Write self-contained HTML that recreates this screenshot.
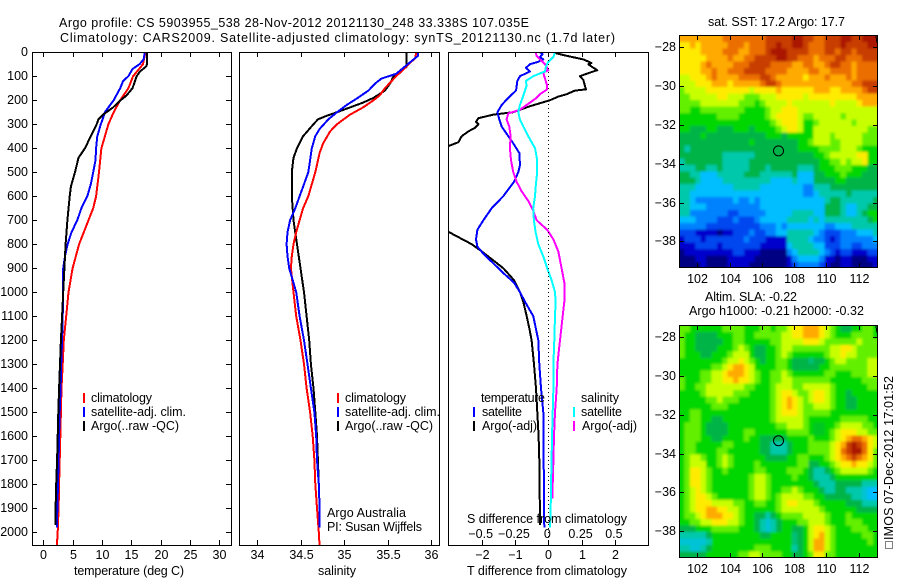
<!DOCTYPE html>
<html lang="en">
<head>
<meta charset="utf-8">
<title>Argo profile</title>
<style>
html,body{margin:0;padding:0;background:#fff;}
svg{display:block;}
text{font-family:"Liberation Sans",sans-serif;font-size:12.5px;fill:#000;}
</style>
</head>
<body>
<svg id="fig" xmlns="http://www.w3.org/2000/svg" width="900" height="580" viewBox="0 0 900 580">
<defs>
<clipPath id="clip-t"><rect x="33" y="52" width="198" height="494"/></clipPath>
<clipPath id="clip-s"><rect x="240" y="52" width="199" height="494"/></clipPath>
<clipPath id="clip-d"><rect x="449" y="52" width="199" height="494"/></clipPath>
<clipPath id="clip-sst"><rect x="680" y="35" width="198" height="233"/></clipPath>
<clipPath id="clip-sla"><rect x="680" y="325" width="198" height="233"/></clipPath>
<filter id="soften" filterUnits="userSpaceOnUse" x="660" y="15" width="240" height="565"><feGaussianBlur stdDeviation="1.3"/></filter>
</defs>
<g id="layer-maps"></g>
<g id="layer-lines"></g>
<g id="layer-axes"></g>

<text x="59" y="27" textLength="470" lengthAdjust="spacing">Argo profile: CS 5903955_538 28-Nov-2012 20121130_248 33.338S 107.035E</text>
<text x="60" y="42" textLength="555" lengthAdjust="spacing">Climatology: CARS2009. Satellite-adjusted climatology: synTS_20121130.nc (1.7d later)</text>

<text x="74" y="575" textLength="110" lengthAdjust="spacing">temperature (deg C)</text>
<text x="318" y="575" textLength="38" lengthAdjust="spacing">salinity</text>
<text x="467" y="575" textLength="160" lengthAdjust="spacing">T difference from climatology</text>
<text x="467" y="523" textLength="160" lengthAdjust="spacing">S difference from climatology</text>

<g>
<rect x="83" y="393" width="2" height="10" fill="#ff0000"/>
<rect x="83" y="407" width="2" height="10" fill="#0000ff"/>
<rect x="83" y="421" width="2" height="10" fill="#000"/>
<text x="91" y="402" textLength="61" lengthAdjust="spacing">climatology</text>
<text x="91" y="416" textLength="95" lengthAdjust="spacing">satellite-adj. clim.</text>
<text x="91" y="430" textLength="88" lengthAdjust="spacing">Argo(..raw -QC)</text>
</g>
<g>
<rect x="337" y="393" width="2" height="10" fill="#ff0000"/>
<rect x="337" y="407" width="2" height="10" fill="#0000ff"/>
<rect x="337" y="421" width="2" height="10" fill="#000"/>
<text x="345" y="402" textLength="61" lengthAdjust="spacing">climatology</text>
<text x="345" y="416" textLength="95" lengthAdjust="spacing">satellite-adj. clim.</text>
<text x="345" y="430" textLength="88" lengthAdjust="spacing">Argo(..raw -QC)</text>
</g>
<text x="327" y="517" textLength="79" lengthAdjust="spacing">Argo Australia</text>
<text x="327" y="531" textLength="95" lengthAdjust="spacing">PI: Susan Wijffels</text>

<g>
<text x="481" y="402" textLength="64" lengthAdjust="spacing">temperature</text>
<text x="581" y="402" textLength="38" lengthAdjust="spacing">salinity</text>
<rect x="473" y="407" width="2" height="10" fill="#0000ff"/>
<rect x="473" y="421" width="2" height="10" fill="#000"/>
<rect x="573" y="407" width="2" height="10" fill="#00ffff"/>
<rect x="573" y="421" width="2" height="10" fill="#ff00ff"/>
<text x="482" y="416" textLength="40" lengthAdjust="spacing">satellite</text>
<text x="482" y="430" textLength="55" lengthAdjust="spacing">Argo(-adj)</text>
<text x="581" y="416" textLength="41" lengthAdjust="spacing">satellite</text>
<text x="582" y="430" textLength="55" lengthAdjust="spacing">Argo(-adj)</text>
</g>

<text x="708" y="26" textLength="137" lengthAdjust="spacing">sat. SST: 17.2 Argo: 17.7</text>
<text x="705" y="301" textLength="92" lengthAdjust="spacing">Altim. SLA: -0.22</text>
<text x="689" y="315" textLength="175" lengthAdjust="spacing">Argo h1000: -0.21 h2000: -0.32</text>
<rect x="885.5" y="541.5" width="7" height="7" fill="none" stroke="#000" stroke-width="1" stroke-dasharray="1 1" shape-rendering="crispEdges"/>
<text transform="translate(893 540) rotate(-90)" x="0" y="0" textLength="164" lengthAdjust="spacing">IMOS 07-Dec-2012 17:01:52</text>
</svg>

<script>
// ---------- profile data (depth in m, temperature in deg C, salinity in psu) ----------
const tClimDepth = [0,50,100,150,200,250,300,350,400,500,600,650,700,800,900,1000,1100,1200,1300,1400,1500,1600,1700,1800,1900,2000,2060];
const tClimValue = [17.4,17.0,15.3,14.5,13.1,12.0,11.1,10.5,9.9,9.5,9.0,8.5,7.7,6.1,5.0,4.3,3.9,3.5,3.3,3.1,3.0,2.9,2.8,2.7,2.6,2.45,2.3];
const tSatDepth = [0,30,50,70,100,120,150,200,250,280,300,350,400,450,500,550,600,650,700,750,800,850,900,1000,1100,1200,1300,1400,1500,1600,1700,1800,1900,1980];
const tSatValue = [17.3,17.1,16.4,15.2,14.5,13.6,13.1,12.0,10.5,10.1,9.8,9.2,9.0,8.9,8.5,8.1,7.5,6.5,5.8,4.8,4.15,3.7,3.4,3.4,3.3,3.2,3.05,2.95,2.8,2.7,2.6,2.5,2.4,2.3];
const tArgoDepth = [0,50,60,80,100,130,150,180,200,230,260,280,300,350,400,440,500,560,600,700,800,900,1000,1100,1200,1300,1400,1500,1600,1700,1800,1900,1970];
const tArgoValue = [17.7,17.7,17.5,16.5,15.9,15.5,15.2,14.2,13.2,11.9,10.2,9.4,9.1,8.1,7.1,6.0,5.4,4.7,4.5,4.1,3.8,3.6,3.4,3.2,3.0,2.85,2.7,2.55,2.45,2.35,2.2,2.1,2.05];

const sClimDepth = [0,25,50,80,100,150,180,200,230,260,300,330,380,420,500,550,600,650,700,750,800,850,900,1000,1100,1200,1300,1400,1500,1600,1700,1800,1900,2000,2060];
const sClimValue = [35.83,35.82,35.74,35.66,35.6,35.47,35.41,35.34,35.22,35.07,34.92,34.84,34.76,34.72,34.67,34.63,34.59,34.53,34.49,34.45,34.42,34.40,34.39,34.42,34.45,34.5,34.54,34.57,34.61,34.64,34.66,34.67,34.69,34.71,34.72];
const sSatDepth = [0,15,30,60,90,110,130,160,190,220,250,280,320,350,400,450,500,550,600,650,700,750,800,850,900,950,1000,1100,1200,1300,1400,1500,1600,1700,1800,1900,1980];
const sSatValue = [35.85,35.85,35.8,35.7,35.6,35.43,35.36,35.28,35.16,35.03,34.92,34.82,34.72,34.67,34.63,34.61,34.59,34.54,34.49,34.44,34.38,34.35,34.34,34.35,34.37,34.41,34.45,34.49,34.54,34.58,34.62,34.66,34.68,34.69,34.71,34.72,34.72];
const sArgoDepth = [0,60,80,100,130,160,190,210,230,250,265,280,300,350,400,440,500,600,700,800,900,1000,1100,1200,1300,1400,1500,1600,1700,1800,1900,1970];
const sArgoValue = [35.72,35.72,35.66,35.57,35.53,35.47,35.34,35.22,35.07,34.92,34.8,34.7,34.65,34.53,34.46,34.42,34.4,34.4,34.42,34.46,34.5,34.54,34.57,34.6,34.62,34.65,34.67,34.69,34.7,34.71,34.72,34.72];

// ---------- difference panel data ----------
const dtArgoDepth = [0,5,15,30,45,50,60,75,85,100,115,140,155,160,175,185,200,225,250,260,265,275,290,300,315,330,350,375,390,450,500,600,700,750,800,830,900,950,1000,1040,1100,1150,1200,1300,1400,1500,1600,1700,1800,1900,1970];
const dtArgoValue = [0.2,0.25,0.55,1.05,1.3,1.2,1.3,1.47,1.25,0.95,1.05,1.1,1.13,0.8,0.55,0.3,0.05,-0.55,-1.05,-1.65,-1.8,-2.1,-2.17,-2.1,-2.2,-2.4,-2.6,-2.7,-2.98,-3.9,-4.1,-4.5,-3.6,-2.98,-2.3,-2.0,-1.35,-1.03,-0.85,-0.75,-0.65,-0.57,-0.5,-0.43,-0.37,-0.33,-0.29,-0.27,-0.27,-0.25,-0.25];
const dtSatDepth = [0,8,20,30,40,50,65,80,100,120,140,160,190,220,250,280,310,350,380,420,470,500,540,600,650,700,740,780,810,840,880,920,960,1000,1040,1100,1200,1300,1400,1500,1600,1700,1800,1900,1980];
const dtSatValue = [-0.25,-0.17,-0.25,-0.15,-0.3,-0.55,-0.67,-0.55,-0.85,-0.93,-0.95,-0.97,-1.2,-1.4,-1.53,-1.47,-1.4,-1.2,-1.05,-0.87,-0.85,-0.9,-1.03,-1.35,-1.7,-1.95,-2.13,-2.17,-2.13,-1.95,-1.65,-1.35,-1.03,-0.85,-0.7,-0.45,-0.3,-0.27,-0.22,-0.15,-0.15,-0.14,-0.13,-0.13,-0.12];
const dsSatDepth = [0,20,40,60,80,100,120,140,160,190,220,250,280,310,350,400,450,500,550,600,650,700,750,800,850,900,950,1000,1040,1100,1200,1300,1400,1500,1600,1700,1800,1900,1980];
const dsSatValue = [0.05,0.038,0,-0.018,-0.025,-0.113,-0.168,-0.163,-0.175,-0.193,-0.213,-0.225,-0.213,-0.188,-0.15,-0.1,-0.083,-0.083,-0.093,-0.1,-0.113,-0.108,-0.095,-0.075,-0.038,-0.008,0.025,0.05,0.055,0.05,0.045,0.038,0.038,0.033,0.028,0.025,0.02,0.018,0.013];
const dsArgoDepth = [0,15,30,50,75,85,110,140,155,175,190,215,240,255,280,310,350,400,450,500,540,580,620,660,700,740,780,830,900,960,1000,1040,1100,1200,1300,1400,1500,1600,1700,1860];
const dsArgoValue = [-0.095,-0.088,-0.063,-0.025,0,-0.038,-0.025,-0.008,-0.008,-0.063,-0.088,-0.15,-0.213,-0.3,-0.313,-0.293,-0.283,-0.288,-0.28,-0.263,-0.238,-0.2,-0.15,-0.113,-0.088,-0.008,0.038,0.075,0.1,0.12,0.12,0.12,0.108,0.088,0.068,0.063,0.05,0.043,0.038,0.03];

// ---------- tick labels ----------
const depthTicks = [0,100,200,300,400,500,600,700,800,900,1000,1100,1200,1300,1400,1500,1600,1700,1800,1900,2000];
const tempTicks = [0,5,10,15,20,25,30];
const salTicks = [34,34.5,35,35.5,36];
const salTickLabels = ['34','34.5','35','35.5','36'];
const dtTicks = [-2,-1,0,1,2];
const dtTickLabels = ['\u22122','\u22121','0','1','2'];
const dsTicks = [-0.5,-0.25,0,0.25,0.5];
const dsTickLabels = ['\u22120.5','\u22120.25','0','0.25','0.5'];
const lonTicks = [102,104,106,108,110,112];
const latTicks = [-28,-30,-32,-34,-36,-38];

// ---------- float position ----------
const floatLon = 107.035;
const floatLat = -33.338;

// ---------- map grids: colour-scale level per 1/3 degree cell, north to south ----------
const sstLevels = [
[11,11,11,11,11,11,11,11,12,12,12,12,12,12,12,12,13,13,13,13,13,14,14,13,13,12,12,13,13,13,14,14,13,13,14,14,14],
[10,10,11,10,11,11,11,11,11,12,12,12,11,12,12,12,13,13,14,13,13,14,14,13,12,12,12,13,13,13,14,13,13,13,13,14,14],
[10,10,10,10,11,11,11,11,12,12,12,11,11,12,12,12,13,14,14,14,13,13,13,13,12,12,12,13,13,12,13,13,12,13,13,13,13],
[10,10,10,10,10,11,11,11,11,12,11,11,12,12,13,13,13,13,14,14,13,13,12,12,12,11,12,12,12,13,13,12,12,12,13,13,13],
[10,10,10,10,11,12,11,11,11,11,12,12,12,13,13,13,13,12,12,12,12,11,11,12,12,11,11,12,13,13,12,12,11,12,12,12,12],
[10,10,10,10,11,11,12,11,11,12,12,12,13,13,13,13,12,12,12,12,11,11,11,11,12,12,11,11,12,12,12,12,11,12,12,12,12],
[9,9,10,10,10,11,12,11,11,11,11,12,12,12,12,13,13,12,11,11,11,11,11,10,11,11,11,12,11,11,11,12,11,12,12,12,12],
[9,9,9,10,10,10,11,11,11,10,11,11,11,11,11,12,13,13,12,11,11,11,11,11,11,11,11,11,11,11,11,11,12,12,13,13,13],
[8,9,9,9,9,10,10,10,10,10,10,10,10,9,10,10,10,10,11,10,10,10,10,10,10,11,11,11,10,10,11,11,11,11,12,13,13],
[8,8,9,9,9,9,9,10,10,9,9,9,8,8,8,9,9,9,10,10,10,10,10,9,10,10,10,10,10,10,10,10,10,11,11,11,11],
[8,8,8,8,9,9,9,9,9,9,9,8,8,8,7,8,9,9,9,9,10,9,9,9,9,9,9,9,10,9,9,9,9,10,11,11,11],
[8,8,7,7,8,8,8,8,8,8,8,8,7,7,7,7,8,9,9,10,10,10,9,9,9,9,9,9,9,9,9,9,9,9,9,9,9],
[7,7,7,7,7,7,7,8,8,8,8,7,7,7,7,7,8,9,10,10,10,10,9,8,8,9,9,9,9,9,8,9,9,9,9,9,9],
[7,7,7,7,7,7,7,7,7,7,7,7,7,7,7,7,7,8,9,10,10,10,9,7,7,8,9,9,9,9,9,9,8,9,9,9,9],
[7,7,6,6,6,7,7,6,6,6,7,7,7,6,7,7,7,7,8,9,10,10,9,7,7,9,9,9,9,9,9,9,9,9,9,8,8],
[6,6,6,6,7,6,6,6,6,6,6,6,6,6,6,6,7,7,7,6,7,7,7,7,7,9,9,9,8,9,9,9,9,9,8,8,8],
[6,6,6,6,6,6,6,6,6,6,6,6,6,7,6,6,6,6,6,6,6,6,7,7,8,9,9,9,8,8,9,9,9,9,8,8,8],
[6,5,6,6,6,6,6,6,6,6,6,6,6,6,6,6,6,6,6,6,6,6,7,7,7,7,8,8,8,8,9,9,9,8,7,7,7],
[6,6,6,6,6,6,6,6,5,5,5,5,5,5,6,6,6,6,6,6,6,6,6,6,6,7,7,8,9,9,9,9,9,10,10,7,7],
[5,6,6,6,6,6,6,6,5,5,5,5,5,6,6,6,6,6,6,6,6,6,6,6,6,6,7,7,8,8,9,8,9,9,10,7,7],
[5,5,5,6,6,5,5,6,5,5,5,5,5,6,6,6,5,6,6,6,6,6,5,5,5,6,7,7,7,8,8,8,7,7,7,6,6],
[6,6,5,5,4,4,4,5,5,5,5,5,6,6,6,5,5,5,5,5,5,6,4,4,4,6,6,7,7,7,8,7,7,7,6,6,6],
[6,6,6,5,4,4,4,4,5,5,5,5,5,5,5,5,5,4,4,4,4,5,4,4,4,6,6,6,6,7,7,6,6,6,6,6,6],
[5,5,5,4,4,4,4,4,4,4,5,5,5,5,5,4,4,4,4,4,4,4,4,3,3,5,5,5,6,6,6,6,6,6,6,6,6],
[5,5,4,4,4,4,4,4,4,4,4,4,4,4,4,4,4,4,4,4,4,4,4,3,3,4,5,5,5,5,5,6,5,5,5,5,5],
[5,5,4,3,3,3,3,3,3,3,4,3,3,4,3,4,4,4,4,4,4,4,4,4,4,4,4,5,6,6,5,5,5,5,5,5,6],
[5,5,4,4,4,3,3,3,3,3,3,3,3,3,3,4,4,4,4,4,4,4,4,4,4,4,4,6,6,6,5,4,4,5,5,6,6],
[5,5,3,3,3,3,3,3,3,2,2,3,3,3,3,3,4,4,4,4,4,5,5,5,5,4,4,6,6,6,5,4,4,5,6,7,7],
[4,4,4,3,3,3,3,2,2,2,3,2,2,2,3,4,4,4,4,4,5,5,5,5,4,5,4,5,5,5,5,5,5,5,5,6,7],
[3,3,3,3,3,2,2,2,2,2,2,2,2,2,2,3,3,3,4,3,4,4,4,4,4,4,4,3,3,4,4,4,5,5,5,5,5],
[2,2,2,1,1,1,1,0,1,1,2,2,2,3,2,2,3,3,4,4,5,5,5,5,5,4,3,2,2,2,3,3,3,4,4,4,5],
[1,2,2,2,1,2,2,2,2,2,2,2,3,2,2,2,1,1,1,1,5,5,5,5,4,3,3,2,1,2,3,3,3,3,3,3,4],
[1,1,1,2,2,2,2,1,2,2,2,2,2,2,2,1,1,1,1,1,4,5,5,5,5,4,4,2,2,2,3,3,2,2,3,3,3],
[0,1,1,1,1,1,1,1,1,1,2,2,1,1,1,0,0,0,0,0,3,4,5,5,5,5,4,3,2,1,2,2,1,1,1,2,2],
[0,0,0,1,1,0,0,0,0,1,1,1,1,1,0,0,0,0,0,0,1,3,4,4,4,4,3,1,1,0,1,1,0,0,0,1,1],
[0,0,0,0,1,0,0,0,0,1,1,1,1,0,0,0,0,0,0,0,1,2,3,3,3,3,2,1,0,0,1,1,0,0,0,0,1]
];
const slaLevels = [
[8,8,7,7,7,7,7,7,8,8,8,8,7,7,7,8,8,7,8,8,9,10,10,11,11,11,10,9,8,7,6,6,7,7,8,8,7],
[8,7,7,6,6,6,6,7,7,7,8,8,7,7,8,8,8,8,8,9,9,10,10,11,11,11,10,9,8,7,7,7,8,8,8,8,7],
[8,7,7,6,6,6,6,6,7,7,8,8,7,7,7,7,7,8,8,9,9,9,9,10,10,10,9,8,8,8,8,8,8,9,8,8,8],
[8,7,7,6,6,6,6,7,7,7,8,9,8,7,6,6,7,7,8,9,9,8,8,8,8,8,8,8,9,9,10,10,9,8,8,8,8],
[8,7,7,7,6,6,7,7,7,8,9,9,9,7,6,6,7,7,8,9,8,7,7,7,7,7,7,8,9,9,10,9,9,8,8,8,8],
[7,7,7,7,7,7,7,7,8,9,9,10,9,8,7,6,7,7,8,8,7,6,6,6,5.5,6,6,7,8,9,9,8,8,8,8,9,9],
[7,7,7,7,7,7,8,8,9,10,11,11,10,9,7,7,7,7,8,8,7,6,6,6,6,6,7,7,8,8,8,8,8,8,8,9,9],
[7,7,7,7,8,8,9,9,10,11,11,11,10,9,8,7,7,8,8,9,8,7,7,7,7,7,7,8,8,7,7,7,8,8,8,9,9],
[8,7,7,7,8,8,9,9,10,10,11,10,10,9,8,7,7,8,8,9,9,8,8,8,8,8,8,8,7,7,7,7,7,7,8,8,8],
[8,7,7,8,8,9,9,9,9,9,9,9,8,8,7,7,7,8,9,9,9,8,8,9,9,9,9,9,8,7,7,7,7,7,7,8,8],
[7,7,7,7,8,9,9,9,9,9,8,8,8,7,7,7,7,8,9,10,10,9,8,8,9,10,10,9,8,7,7,6,7,7,7,7,7],
[7,7,7,7,7,8,8,9,8,8,8,7,7,7,7,7,7,8,9,10,11,10,9,8,9,10,10,9,8,7,7,6,6,7,7,7,7],
[7,7,7,7,7,7,8,8,8,7,7,7,7,7,7,7,7,8,9,10,11,10,9,8,8,9,9,9,8,7,7,6,6,7,7,7,7],
[7,7,8,8,7,7,7,7,7,7,7,7,7,7,7,7,7,8,9,10,10,10,9,8,8,8,8,8,7,7,7,7,7,7,7,7,7],
[7,7,8,8,7,7,6,6,7,7,7,7,7,7,7,7,7,8,9,9,9,9,9,8,7,7,7,7,7,7,8,8,8,8,8,7,7],
[7,8,8,8,7,6,6,6,6,7,7,7,7,7,7,7,7,7,8,8,9,9,9,8,7,6.5,6.5,7,7,8,9,9,9,9,8,8,7],
[7,8,8,8,7,6,6,6,6,7,7,7,8,8,7,7,7,7,7,7,8,8,8,8,7,6.5,6.5,7,8,9,10,10,10,9,9,8,8],
[7,8,8,8,7,7,6,6,7,7,7,7,8,7,7,6,6,6,6,6,7,7,7,7,8,7,7,7,8,9,10,11,12,12,11,10,9],
[7,8,8,7,7,7,7,7,8,8,7,7,7,7,7,6,6,5,5,5,6,7,7,7,8,8,8,8,9,10,11,13,14,13,12,10,9],
[7,8,8,7,7,7,7,8,8,7,7,7,7,7,7,6,6,5,5,5,6,7,7,7,8,8,8,8,9,10,12,13,14,14,12,10,8],
[7,8,9,9,8,7,7,8,9,8,7,7,7,7,7,7,6,6,6,6,7,7,8,8,7,7,7,8,9,10,11,12,13,12,11,10,8],
[7,8,9,9,9,7,7,8,9,8,7,7,7,7,8,7,7,7,7,7,7,7,8,8,6,6,7,7,8,9,10,10,11,10,10,9,8],
[7,8,10,10,9,8,7,7,8,7,7,7,7,7,8,8,7,7,7,7,8,8,8,7,6,5,5,6,7,8,9,9,9,9,9,8,7],
[7,8,10,10,9,8,7,7,7,7,7,7,7,8,9,9,8,7,7,7,7,8,7,7,6,5,5,5,6,7,7,7,7,7,7,7,7],
[7,8,10,10,9,8,7,7,7,7,7,7,7,8,9,9,8,7,7,7,7,7,7,7,7,6,5,5,5,6,6,6,6,6,5,5,5],
[7,8,9,10,9,8,7,7,7,7,7,7,7,8,9,9,8,7,7,8,8,9,8,7,7,7,6,5,5,6,6,5,5,5,4.5,4,4],
[7,8,9,10,10,9,8,7,7,7,7,7,7,8,9,9,8,7,8,9,9,9,9,8,8,7,7,6,6,6,6,6,5,5,4.5,4,4],
[7,8,9,10,10,10,9,9,9,9,8,8,7,7,8,8,7,7,8,9,10,10,9,9,9,8,7,7,7,7,7,6,6,6,5,5,5],
[7,8,9,10,10,11,11,10,10,9,9,8,7,7,7,7,7,7,8,9,9,9,9,9,9,9,8,7,7,7,7,7,7,6,6,6,6],
[7,8,8,9,10,11,11,11,10,10,9,8,7,7,6,6,5,6,7,8,8,8,8,9,9,9,9,8,7,7,7,8,7,7,7,7,7],
[7,7,8,8,9,9,10,10,10,9,9,8,7,7,6,5,4.5,5,6,7,7,7,8,8,9,9,9,8,7,7,7,8,8,8,7,7,7],
[6,6,6,7,7,7,8,8,8,8,8,7,7,7,6,5,4.5,5,6,7,7,6,6,7,9,10,10,9,8,7,7,7,8,8,8,7,7],
[5,5,5,5,5,6,7,7,7,7,7,7,7,7,7,6,6,7,7,7,7,5.5,6,7,9,10,11,9,8,7,7,7,7,7,8,8,7],
[4.5,4.5,4.5,4.5,4.5,5,7,7,7,7,7,7,7,7,7,7,7,7,7,7,7,5.5,6,7,9,11,11,9,8,7,7,7,7,7,7,8,7],
[5,5,4.5,4.5,5,6,7,7,7,7,7,7,7,7,8,8,8,7,7,7,7,5,6,7,9,11,11,9,8,7,7,7,7,7,7,7,7],
[6,6,6,6,6,7,7,7,7,7,7,8,8,9,9,8,8,8,8,7,7,6,6,7,8,10,10,8,8,7,7,7,7,7,7,7,7]
];

// ---------- colour scale ----------
const NS = 'http://www.w3.org/2000/svg';
const colorStops = [[0,0,130],[0,0,205],[0,70,240],[0,130,255],[0,190,255],[0,200,170],[0,180,70],[0,215,0],[100,240,0],[200,255,0],[255,235,0],[255,170,0],[235,110,0],[200,60,0],[170,20,0]];
function levelColor(v){
  const k = Math.max(0, Math.min(colorStops.length - 1, v));
  const i = Math.min(colorStops.length - 2, Math.floor(k));
  const f = k - i;
  const a = colorStops[i], b = colorStops[i + 1];
  return 'rgb(' + a.map(function(c, j){ return Math.round(c + (b[j] - c) * f); }).join(',') + ')';
}

// ---------- axis functions ----------
const yDepth = function(d){ return 52.2 + 0.24 * d; };
const xTemp = function(t){ return 43.3 + 5.867 * t; };
const xSal = function(s){ return 257 + 87 * (s - 34); };
const xDt = function(t){ return 548.3 + 33.3 * t; };
const xDs = function(s){ return 548.3 + 133.2 * s; };
const xLon = function(l){ return 697.3 + 16.13 * (l - 102); };
const yLatTop = function(l){ return 47.3 + 19.4 * (-28 - l); };
const yLatBot = function(l){ return 337.3 + 19.37 * (-28 - l); };

const layerLines = document.getElementById('layer-lines');
const layerAxes = document.getElementById('layer-axes');
const layerMaps = document.getElementById('layer-maps');

function drawLine(depths, values, xf, color, clip, name){
  const p = document.createElementNS(NS, 'polyline');
  
  
  p.setAttribute('points', depths.map(function(d, i){ return xf(values[i]).toFixed(1) + ',' + yDepth(d).toFixed(1); }).join(' '));
  p.setAttribute('fill', 'none');
  p.setAttribute('stroke', color);
  p.setAttribute('stroke-width', '2');
  p.setAttribute('stroke-linejoin', 'round');
  p.setAttribute('clip-path', 'url(#' + clip + ')');
  p.setAttribute('shape-rendering', 'crispEdges');
  layerLines.appendChild(p);
}

function seg(x1, y1, x2, y2, name){
  const l = document.createElementNS(NS, 'line');
  
  
  l.setAttribute('x1', x1);
  l.setAttribute('y1', y1);
  l.setAttribute('x2', x2);
  l.setAttribute('y2', y2);
  l.setAttribute('stroke', '#000');
  l.setAttribute('stroke-width', '1');
  l.setAttribute('shape-rendering', 'crispEdges');
  layerAxes.appendChild(l);
}

function label(str, x, y, anchor, name){
  const t = document.createElementNS(NS, 'text');
  
  
  t.setAttribute('x', x);
  t.setAttribute('y', y);
  t.setAttribute('text-anchor', anchor);
  t.textContent = str;
  layerAxes.appendChild(t);
}

function frame(x, y, w, h, name){
  const r = document.createElementNS(NS, 'rect');
  
  
  r.setAttribute('x', x);
  r.setAttribute('y', y);
  r.setAttribute('width', w);
  r.setAttribute('height', h);
  r.setAttribute('fill', 'none');
  r.setAttribute('stroke', '#000');
  r.setAttribute('stroke-width', '1');
  r.setAttribute('shape-rendering', 'crispEdges');
  layerAxes.appendChild(r);
}

// ---------- profile lines ----------
drawLine(tClimDepth, tClimValue, xTemp, '#ff0000', 'clip-t', 'temperature-climatology-line');
drawLine(tSatDepth, tSatValue, xTemp, '#0000ff', 'clip-t', 'temperature-satellite-line');
drawLine(tArgoDepth, tArgoValue, xTemp, '#000000', 'clip-t', 'temperature-argo-line');
drawLine(sArgoDepth, sArgoValue, xSal, '#000000', 'clip-s', 'salinity-argo-line');
drawLine(sClimDepth, sClimValue, xSal, '#ff0000', 'clip-s', 'salinity-climatology-line');
drawLine(sSatDepth, sSatValue, xSal, '#0000ff', 'clip-s', 'salinity-satellite-line');
drawLine(dtArgoDepth, dtArgoValue, xDt, '#000000', 'clip-d', 't-difference-argo-line');
drawLine(dtSatDepth, dtSatValue, xDt, '#0000ff', 'clip-d', 't-difference-satellite-line');
drawLine(dsArgoDepth, dsArgoValue, xDs, '#ff00ff', 'clip-d', 's-difference-argo-line');
drawLine(dsSatDepth, dsSatValue, xDs, '#00ffff', 'clip-d', 's-difference-satellite-line');

// ---------- zero line in difference panel ----------
const zeroLine = document.createElementNS(NS, 'line');


zeroLine.setAttribute('x1', xDt(0));
zeroLine.setAttribute('x2', xDt(0));
zeroLine.setAttribute('y1', 52);
zeroLine.setAttribute('y2', 545);
zeroLine.setAttribute('stroke', '#000');
zeroLine.setAttribute('stroke-width', '1');
zeroLine.setAttribute('stroke-dasharray', '1 3');
zeroLine.setAttribute('shape-rendering', 'crispEdges');
layerLines.appendChild(zeroLine);

// ---------- panel frames and ticks ----------
frame(32.5, 52.5, 199, 493, 'temperature-panel-frame');
frame(239.5, 52.5, 200, 493, 'salinity-panel-frame');
frame(448.5, 52.5, 200, 493, 's-t-difference-panel-frame');

depthTicks.forEach(function(d){
  const y = Math.round(yDepth(d)) + 0.5;
  if (d > 0) {
    seg(33, y, 37, y, 'depth-tick-left');
    seg(226, y, 231, y, 'depth-tick-right');
  }
  label(String(d), 28, Math.round(yDepth(d)) + 4, 'end', 'depth-tick-label');
});
tempTicks.forEach(function(t){
  const x = Math.round(xTemp(t)) + 0.5;
  seg(x, 53, x, 57, 'temperature-tick-top');
  seg(x, 540, x, 545, 'temperature-tick-bottom');
  label(String(t), x, 559, 'middle', 'temperature-tick-label');
});
salTicks.forEach(function(s, i){
  const x = Math.round(xSal(s)) + 0.5;
  seg(x, 53, x, 57, 'salinity-tick-top');
  seg(x, 540, x, 545, 'salinity-tick-bottom');
  label(salTickLabels[i], x, 559, 'middle', 'salinity-tick-label');
});
dtTicks.forEach(function(t, i){
  const x = Math.round(xDt(t)) + 0.5;
  seg(x, 53, x, 57, 't-difference-tick-top');
  seg(x, 540, x, 545, 't-difference-tick-bottom');
  label(dtTickLabels[i], x, 559, 'middle', 't-difference-tick-label');
});
dsTicks.forEach(function(s, i){
  label(dsTickLabels[i], xDs(s) - 1, 538, 'middle', 's-difference-tick-label');
});

// ---------- maps ----------
const cellDeg = 1 / 3;
const mapWestLon = 100.88;
const mapNorthLat = -27.39;

function drawMap(levels, yf, clipId, name){
  const outer = document.createElementNS(NS, 'g');
  
  
  outer.setAttribute('clip-path', 'url(#' + clipId + ')');
  const inner = document.createElementNS(NS, 'g');
  
  
  inner.setAttribute('filter', 'url(#soften)');
  outer.appendChild(inner);
  layerMaps.appendChild(outer);
  const lastRow = levels.length - 1;
  levels.forEach(function(row, r){
    const lastCol = row.length - 1;
    row.forEach(function(v, c){
      const bleed = 8;
      const x0 = xLon(mapWestLon + c * cellDeg) - (c === 0 ? bleed : 0);
      const x1 = xLon(mapWestLon + (c + 1) * cellDeg) + (c === lastCol ? bleed : 0);
      const y0 = yf(mapNorthLat - r * cellDeg) - (r === 0 ? bleed : 0);
      const y1 = yf(mapNorthLat - (r + 1) * cellDeg) + (r === lastRow ? bleed : 0);
      const cell = document.createElementNS(NS, 'rect');
      
      
      cell.setAttribute('x', x0.toFixed(2));
      cell.setAttribute('y', y0.toFixed(2));
      cell.setAttribute('width', (x1 - x0 + 0.5).toFixed(2));
      cell.setAttribute('height', (y1 - y0 + 0.5).toFixed(2));
      cell.setAttribute('fill', levelColor(v));
      cell.setAttribute('shape-rendering', 'crispEdges');
      inner.appendChild(cell);
    });
  });
}
drawMap(sstLevels, yLatTop, 'clip-sst', 'sst-map');
drawMap(slaLevels, yLatBot, 'clip-sla', 'sla-map');

function mapFurniture(top, bottom, yf, labelY, prefix){
  frame(679.5, top + 0.5, 198, bottom - top, prefix + '-map-frame');
  lonTicks.forEach(function(l){
    const x = Math.round(xLon(l)) + 0.5;
    seg(x, top + 1, x, top + 5, prefix + '-longitude-tick-top');
    seg(x, bottom - 4, x, bottom, prefix + '-longitude-tick-bottom');
    label(String(l), x, labelY, 'middle', prefix + '-longitude-label');
  });
  latTicks.forEach(function(l){
    const y = Math.round(yf(l)) + 0.5;
    seg(680, y, 684, y, prefix + '-latitude-tick-left');
    seg(873, y, 877, y, prefix + '-latitude-tick-right');
    label('\u2212' + String(Math.abs(l)), 676, Math.round(yf(l)) + 4, 'end', prefix + '-latitude-label');
  });
  seg(876, top + 1, 877, top + 8, prefix + '-coastline-fragment');
  const marker = document.createElementNS(NS, 'circle');
  
  
  marker.setAttribute('cx', xLon(floatLon));
  marker.setAttribute('cy', yf(floatLat));
  marker.setAttribute('r', 5);
  marker.setAttribute('fill', 'none');
  marker.setAttribute('stroke', '#000');
  marker.setAttribute('stroke-width', '1');
  layerAxes.appendChild(marker);
}
mapFurniture(35, 267, yLatTop, 283, 'sst');
mapFurniture(325, 557, yLatBot, 573, 'sla');
</script>
</body>
</html>
